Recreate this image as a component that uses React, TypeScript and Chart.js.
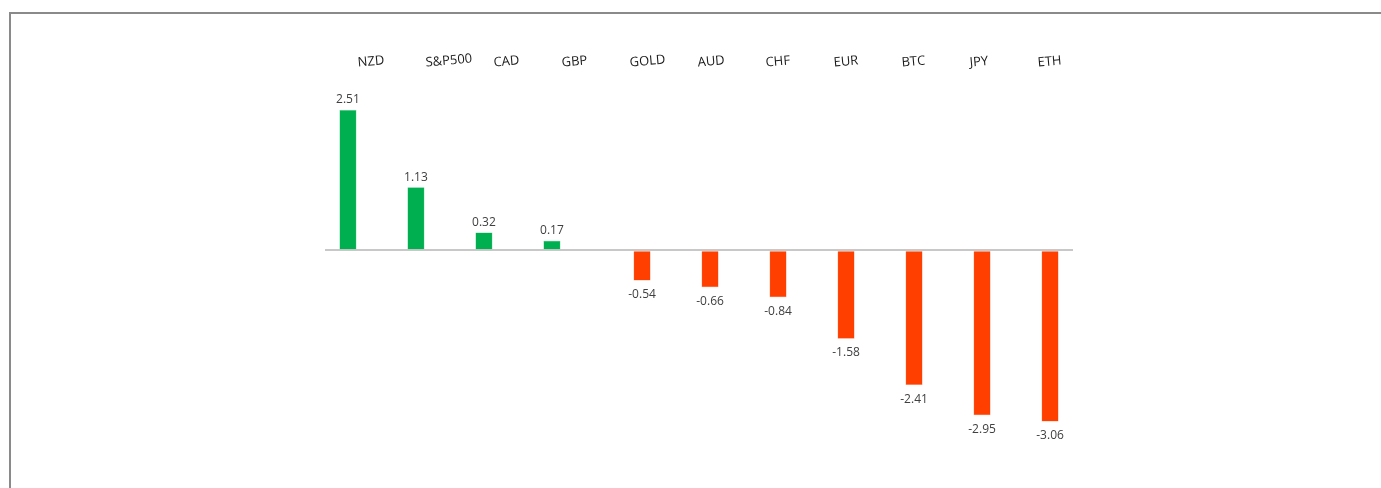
import React, { useEffect, useRef } from "react";
import { Chart, registerables } from "chart.js";

Chart.register(...registerables);

const categories = ["NZD", "S&P500", "CAD", "GBP", "GOLD", "AUD", "CHF", "EUR", "BTC", "JPY", "ETH"];
const values = [2.51, 1.13, 0.32, 0.17, -0.54, -0.66, -0.84, -1.58, -2.41, -2.95, -3.06];
const gainValues = values.map((v) => (v >= 0 ? v : null));
const lossValues = values.map((v) => (v < 0 ? v : null));

const GREEN = "#00B050";
const RED = "#FF3F00";

const valueLabels = {
  id: "valueLabels",
  afterDatasetsDraw(chart: any) {
    const ctx = chart.ctx;
    ctx.save();
    ctx.font = "12px 'Open Sans'";
    ctx.fillStyle = "#404040";
    ctx.textAlign = "center";
    chart.data.datasets.forEach((ds: any, i: number) => {
      const meta = chart.getDatasetMeta(i);
      meta.data.forEach((el: any, j: number) => {
        const v = ds.data[j];
        if (v === null || v === undefined) return;
        if (v >= 0) {
          ctx.textBaseline = "bottom";
          ctx.fillText(v.toFixed(2), el.x, el.y - 4);
        } else {
          ctx.textBaseline = "top";
          ctx.fillText(v.toFixed(2), el.x, el.y + 8);
        }
      });
    });
    ctx.restore();
  },
};

export default function App() {
  const ref = useRef<HTMLCanvasElement>(null);
  useEffect(() => {
    if (!ref.current) return;
    const chart = new Chart(ref.current, {
      type: "bar",
      data: {
        labels: categories,
        datasets: [
          { data: gainValues, backgroundColor: GREEN, borderColor: "#4fcf8a", borderWidth: 0.5 },
          { data: lossValues, backgroundColor: RED, borderColor: "#ff8a60", borderWidth: 0.5 },
        ],
      },
      options: {
        animation: false,
        responsive: false,
        events: [],
        layout: { padding: { left: 325, right: 308, top: 39, bottom: 14 } },
        datasets: { bar: { categoryPercentage: 0.65, barPercentage: 0.77 } },
        plugins: { legend: { display: false }, tooltip: { enabled: false } },
        scales: {
          x: {
            position: "top",
            grid: { display: false, drawTicks: false },
            border: { display: false },
            ticks: {
              minRotation: 5,
              maxRotation: 5,
              padding: 12,
              color: "#1a1a1a",
              font: { family: "'Open Sans'", size: 13 },
            },
          },
          y: {
            min: -4,
            max: 3,
            ticks: { display: false, stepSize: 1 },
            border: { display: false },
            grid: {
              drawTicks: false,
              lineWidth: 2,
              color: (c: any) => (c.tick && c.tick.value === 0 ? "#c8c8c8" : "rgba(0,0,0,0)"),
            },
          },
        },
      },
      plugins: [valueLabels],
    });
    return () => chart.destroy();
  }, []);

  return (
    <div style={{ position: "fixed", left: 0, top: 0, width: 1381, height: 488, background: "#fff", overflow: "hidden" }}>
      <div
        style={{
          position: "absolute",
          left: 9,
          top: 12,
          width: 1400,
          height: 500,
          borderLeft: "2px solid #8a8a8a",
          borderTop: "2px solid #8a8a8a",
        }}
      />
      <canvas ref={ref} width={1381} height={488} style={{ position: "absolute", left: 0, top: 0 }} />
    </div>
  );
}
